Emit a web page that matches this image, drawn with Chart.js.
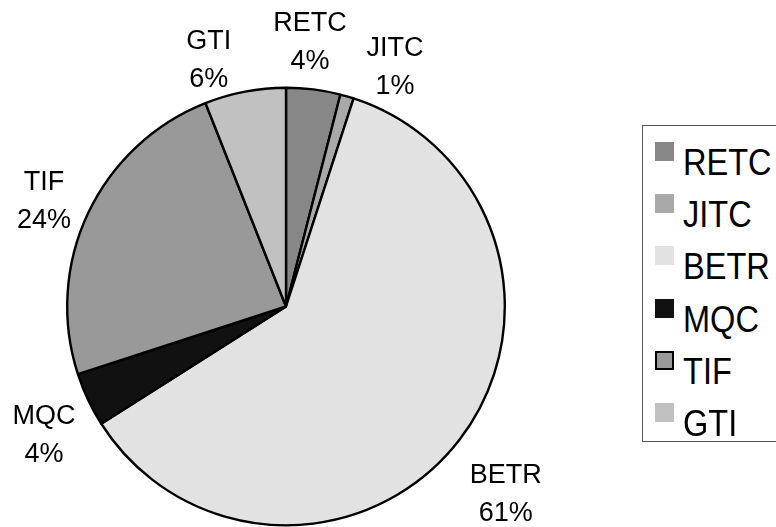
<!DOCTYPE html>
<html>
<head>
<meta charset="utf-8">
<script src="https://cdn.jsdelivr.net/npm/chart.js@4/dist/chart.umd.min.js"></script>
<style>
  html, body { margin: 0; padding: 0; background: #fff; overflow: hidden; }
  #wrap { position: relative; width: 776px; height: 527px; }
  #legend {
    position: absolute; left: 642px; top: 125px; width: 170px; height: 317px;
    border: 1.5px solid #555; box-sizing: border-box; background: #fff;
  }
  .mk { position: absolute; left: 12px; width: 19px; height: 19px; box-sizing: border-box; }
  .lt {
    position: absolute; left: 40px; font-family: "Liberation Sans", Arial, sans-serif;
    font-size: 37px; line-height: 37px; color: #000; white-space: nowrap;
    transform: scaleX(0.88); transform-origin: left top;
  }
</style>
</head>
<body>
<div id="wrap">
  <canvas id="c" width="776" height="527"></canvas>
  <div id="legend"></div>
</div>
<script>
// Share of work by unit (percent)
const categories = ['RETC', 'JITC', 'BETR', 'MQC', 'TIF', 'GTI'];
const shares = [4, 1, 61, 4, 24, 6];
const sliceColors = ['#878787', '#a9a9a9', '#e2e2e2', '#111111', '#999999', '#c1c1c1'];

// Outside label placement: angular nudge (deg) and distance from centre (px)
const labelNudge = [-2, 8.3, 2.7, -2.8, -1.7, -6.6];
const labelDist = [265, 263, 289, 274, 264, 258];

const outsideLabels = {
  id: 'outsideLabels',
  afterDatasetsDraw(chart) {
    const ctx = chart.ctx;
    const meta = chart.getDatasetMeta(0);
    const total = shares.reduce((a, b) => a + b, 0);
    ctx.save();
    ctx.fillStyle = '#000';
    ctx.font = '27px "Liberation Sans", Arial, sans-serif';
    ctx.textAlign = 'center';
    ctx.textBaseline = 'middle';
    meta.data.forEach((arc, i) => {
      const p = arc.getProps(['x', 'y', 'startAngle', 'endAngle'], true);
      const a = (p.startAngle + p.endAngle) / 2 + labelNudge[i] * Math.PI / 180;
      const cx = p.x + Math.cos(a) * labelDist[i];
      const cy = p.y + Math.sin(a) * labelDist[i];
      const pct = Math.round(shares[i] / total * 100) + '%';
      ctx.fillText(categories[i], cx, cy - 19);
      ctx.fillText(pct, cx, cy + 19);
    });
    ctx.restore();
  }
};

new Chart(document.getElementById('c'), {
  type: 'pie',
  data: {
    labels: categories,
    datasets: [{
      data: shares,
      backgroundColor: sliceColors,
      borderColor: '#000',
      borderWidth: 2.4
    }]
  },
  options: {
    responsive: false,
    animation: false,
    layout: { padding: { left: 66, right: 270, top: 86, bottom: 0 } },
    plugins: {
      legend: { display: false },
      tooltip: { enabled: false }
    }
  },
  plugins: [outsideLabels]
});

// Legend panel
const legend = document.getElementById('legend');
categories.forEach((name, i) => {
  const top = 16 + i * 52.2;
  const mk = document.createElement('div');
  mk.className = 'mk';
  mk.style.top = top + 'px';
  mk.style.background = sliceColors[i];
  if (name === 'TIF') mk.style.border = '2px solid #000';
  legend.appendChild(mk);
  const t = document.createElement('div');
  t.className = 'lt';
  t.style.top = (top + 2) + 'px';
  t.textContent = name;
  legend.appendChild(t);
});
</script>
</body>
</html>
